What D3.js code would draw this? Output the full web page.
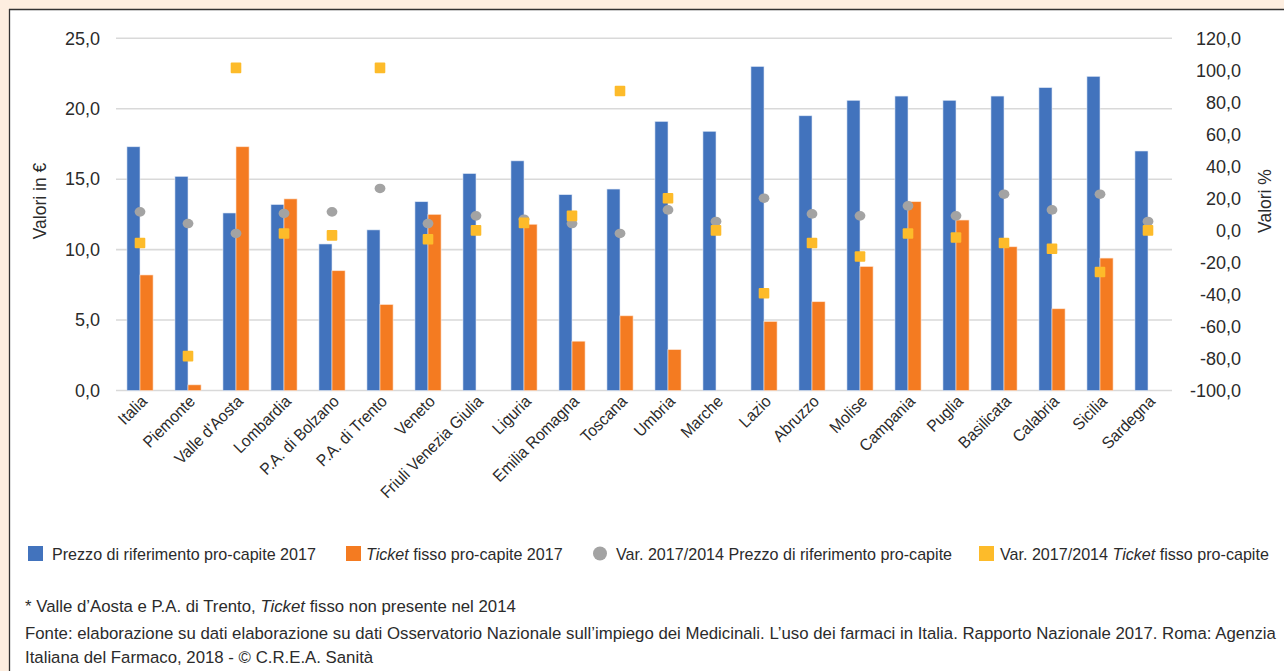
<!DOCTYPE html>
<html>
<head>
<meta charset="utf-8">
<script src="https://cdn.jsdelivr.net/npm/d3@7"></script>
<style>
  html, body { margin: 0; padding: 0; background: #fdeee0; }
  svg { display: block; }
  text { font-family: "Liberation Sans", Arial, Helvetica, sans-serif; fill: #2b2b2b; }
</style>
</head>
<body>
<div id="chart"></div>
<script>
// ---- Data ----
const categories = ["Italia","Piemonte","Valle d'Aosta","Lombardia","P.A. di Bolzano","P.A. di Trento","Veneto","Friuli Venezia Giulia","Liguria","Emilia Romagna","Toscana","Umbria","Marche","Lazio","Abruzzo","Molise","Campania","Puglia","Basilicata","Calabria","Sicilia","Sardegna"];
const prezzo2017 = [17.3,15.2,12.6,13.2,10.4,11.4,13.4,15.4,16.3,13.9,14.3,19.1,18.4,23.0,19.5,20.6,20.9,20.6,20.9,21.5,22.3,17.0];
const ticket2017 = [8.2,0.4,17.3,13.6,8.5,6.1,12.5,null,11.8,3.5,5.3,2.9,null,4.9,6.3,8.8,13.4,12.1,10.2,5.8,9.4,null];
const varPrezzo = [11.6,4.3,-1.9,10.6,11.6,26.2,4.3,9.1,7.0,4.3,-1.9,12.8,5.6,20.1,10.3,9.1,15.3,9.1,22.6,12.8,22.6,5.6];
const varTicket = [-7.9,-78.5,101.5,-1.9,-3.1,101.5,-5.5,0,4.7,9.1,87.1,20.1,0,-39.3,-7.9,-16.3,-1.9,-4.4,-7.9,-11.5,-26.0,0];
const leftTicks = [0,5,10,15,20,25];
const rightTicks = [-100,-80,-60,-40,-20,0,20,40,60,80,100,120];
const seriesNames = ["Prezzo di riferimento pro-capite 2017","Ticket fisso pro-capite 2017","Var. 2017/2014 Prezzo di riferimento pro-capite","Var. 2017/2014 Ticket fisso pro-capite"];
const footnotes = ["* Valle d\u2019Aosta e P.A. di Trento, |Ticket| fisso non presente nel 2014",
  "Fonte: elaborazione su dati elaborazione su dati Osservatorio Nazionale sull\u2019impiego dei Medicinali. L\u2019uso dei farmaci in Italia. Rapporto Nazionale 2017. Roma: Agenzia",
  "Italiana del Farmaco, 2018 - \u00a9 C.R.E.A. Sanit\u00e0"];

const colors = { blue: "#4273bd", orange: "#f47b21", gray: "#a3a3a3", yellow: "#fdbb2a" };

const W = 1284, H = 671;
const svg = d3.select("#chart").append("svg").attr("width", W).attr("height", H);

// frame
svg.append("rect").attr("x", 0).attr("y", 0).attr("width", W).attr("height", H).attr("fill", "#fdeee0");
svg.append("rect").attr("x", 9).attr("y", 9).attr("width", W - 9).attr("height", H - 9).attr("fill", "#fff");
svg.append("line").attr("x1", 9).attr("x2", W).attr("y1", 9.5).attr("y2", 9.5).attr("stroke", "#333").attr("stroke-width", 1.3);
svg.append("line").attr("x1", 9.5).attr("x2", 9.5).attr("y1", 9).attr("y2", H).attr("stroke", "#333").attr("stroke-width", 1.3);

const plot = { left: 116, right: 1172, top: 38.3, bottom: 390.5 };

const loc = d3.formatLocale({ decimal: ",", thousands: ".", grouping: [3], currency: ["", "€"], minus: "-" });
const fmt = loc.format(".1f");

const x = d3.scaleBand().domain(categories).range([plot.left, plot.right]).padding(0);
const y = d3.scaleLinear().domain([0, 25]).range([plot.bottom, plot.top]);
const y2 = d3.scaleLinear().domain([-100, 120]).range([plot.bottom, plot.top]);

// gridlines
svg.append("g").selectAll("line").data(leftTicks).join("line")
  .attr("x1", plot.left).attr("x2", plot.right)
  .attr("y1", d => y(d)).attr("y2", d => y(d))
  .attr("stroke", "#d9d9d9").attr("stroke-width", 1.6);

// left axis
const gL = svg.append("g").attr("transform", `translate(${plot.left},0)`)
  .call(d3.axisLeft(y).tickValues(leftTicks).tickFormat(fmt).tickSize(0).tickPadding(16));
gL.select(".domain").remove();
gL.selectAll("text").style("font-size", "18px").attr("fill", "#2b2b2b");

// right axis
const gR = svg.append("g").attr("transform", `translate(${plot.right},0)`)
  .call(d3.axisRight(y2).tickValues(rightTicks).tickFormat(fmt).tickSize(0).tickPadding(69));
gR.select(".domain").remove();
gR.selectAll("text").style("font-size", "18px").attr("text-anchor", "end").attr("fill", "#2b2b2b");

// axis titles
svg.append("text").attr("transform", `translate(46,201) rotate(-90)`).attr("text-anchor", "middle")
  .style("font-size", "17.5px").text("Valori in €");
svg.append("text").attr("transform", `translate(1271,201) rotate(-90)`).attr("text-anchor", "middle")
  .style("font-size", "17.5px").text("Valori %");

const bw = x.bandwidth() * 0.272;

// bars
const rows = categories.map((c, i) => ({ c, p: prezzo2017[i], t: ticket2017[i], vp: varPrezzo[i], vt: varTicket[i] }));
svg.append("g").selectAll("rect").data(rows).join("rect")
  .attr("x", d => x(d.c) + x.bandwidth() / 2 - bw)
  .attr("y", d => y(d.p)).attr("width", bw).attr("height", d => y(0) - y(d.p))
  .attr("fill", colors.blue).attr("stroke", "#dfe8f5").attr("stroke-width", 0.6);
svg.append("g").selectAll("rect").data(rows.filter(d => d.t != null)).join("rect")
  .attr("x", d => x(d.c) + x.bandwidth() / 2)
  .attr("y", d => y(d.t)).attr("width", bw).attr("height", d => y(0) - y(d.t))
  .attr("fill", colors.orange).attr("stroke", "#fde3d0").attr("stroke-width", 0.6);

// markers
svg.append("g").selectAll("ellipse").data(rows).join("ellipse")
  .attr("cx", d => x(d.c) + x.bandwidth() / 2).attr("cy", d => y2(d.vp))
  .attr("rx", 5.4).attr("ry", 4.8).attr("fill", colors.gray);
const sq = 10.6;
svg.append("g").selectAll("rect").data(rows).join("rect")
  .attr("x", d => x(d.c) + x.bandwidth() / 2 - sq / 2).attr("y", d => y2(d.vt) - sq / 2)
  .attr("width", sq).attr("height", sq).attr("rx", 1).attr("fill", colors.yellow);

// x labels
svg.append("g").selectAll("text").data(categories).join("text")
  .attr("transform", d => `translate(${x(d) + x.bandwidth() / 2 + 8},${plot.bottom + 12}) rotate(-45) scale(0.94,1)`)
  .attr("text-anchor", "end").style("font-size", "16.5px").text(d => d);

// legend
const leg = svg.append("g");
const legY = 553.5;
const legItems = [
  { kind: "sq", color: colors.blue, mx: 28, tx: 52, name: seriesNames[0] },
  { kind: "sq", color: colors.orange, mx: 346, tx: 366, name: seriesNames[1] },
  { kind: "circle", color: colors.gray, mx: 593, tx: 616, name: seriesNames[2] },
  { kind: "sq", color: colors.yellow, mx: 979, tx: 1000, name: seriesNames[3] }
];
legItems.forEach(it => {
  if (it.kind === "sq") {
    leg.append("rect").attr("x", it.mx).attr("y", legY - 7.5).attr("width", 15).attr("height", 15).attr("fill", it.color);
  } else {
    leg.append("circle").attr("cx", it.mx + 7).attr("cy", legY).attr("r", 7).attr("fill", it.color);
  }
  const t = leg.append("text").attr("x", it.tx).attr("y", legY + 6).style("font-size", "16.1px");
  const parts = it.name.split(/(Ticket)/);
  parts.forEach(p => { if (p) t.append("tspan").style("font-style", p === "Ticket" ? "italic" : "normal").text(p); });
});

// footnotes
const fy = [612, 639, 663];
footnotes.forEach((f, i) => {
  const t = svg.append("text").attr("x", 25).attr("y", fy[i]).style("font-size", "16.8px");
  f.split("|").forEach((p, j) => t.append("tspan").style("font-style", j === 1 ? "italic" : "normal").text(p));
});
</script>
</body>
</html>
